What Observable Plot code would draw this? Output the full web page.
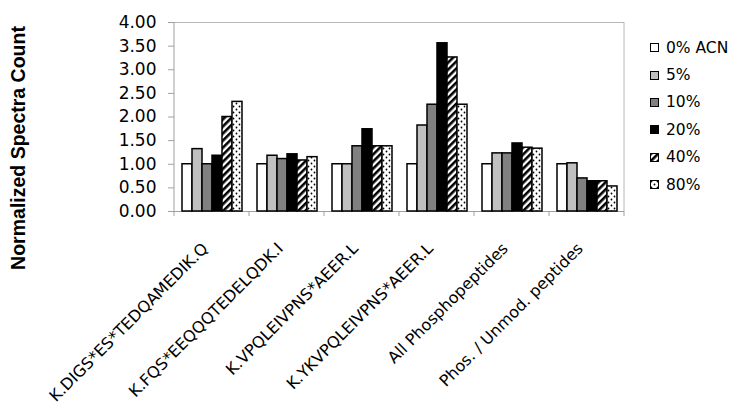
<!DOCTYPE html>
<html><head><meta charset="utf-8">
<script src="https://cdn.jsdelivr.net/npm/d3@7"></script>
<script src="https://cdn.jsdelivr.net/npm/@observablehq/plot@0.6"></script>
<style>
body{margin:0;background:#fff;}
#wrap{position:relative;width:734px;height:408px;overflow:hidden;background:#fff;}
#legend{position:absolute;left:650px;top:34px;font-family:"DejaVu Sans";font-size:15.5px;color:#000;}
.row{display:flex;align-items:center;height:27.4px;}
.row svg{margin-right:7px;display:block}
</style></head><body><div id="wrap"><div id="legend"></div></div>
<script>
const categories = ["K.DIGS*ES*TEDQAMEDIK.Q","K.FQS*EEQQQTEDELQDK.I","K.VPQLEIVPNS*AEER.L","K.YKVPQLEIVPNS*AEER.L","All Phosphopeptides","Phos. / Unmod. peptides"];
const series = ["0% ACN","5%","10%","20%","40%","80%"];
const v0  = [1.00,1.00,1.00,1.00,1.00,1.00];
const v5  = [1.32,1.18,1.00,1.82,1.23,1.02];
const v10 = [1.00,1.11,1.38,2.26,1.23,0.70];
const v20 = [1.18,1.21,1.74,3.56,1.44,0.64];
const v40 = [2.00,1.08,1.38,3.26,1.35,0.64];
const v80 = [2.32,1.15,1.38,2.26,1.33,0.53];
const yTicks = [0,0.5,1,1.5,2,2.5,3,3.5,4];
const fills = ["#ffffff","#c0c0c0","#808080","#000000","url(#stripe40)","url(#dots80)"];

const values = [v0,v5,v10,v20,v40,v80];
const rows = categories.flatMap((c,i)=>series.map((s,j)=>({category:c, series:s, value:values[j][i]})));

const plot = Plot.plot({
  width:734, height:408, marginLeft:173, marginRight:109, marginTop:22, marginBottom:197,
  style:{fontFamily:"DejaVu Sans", background:"white", color:"black"},
  fx:{domain:categories, padding:0, axis:null},
  x:{domain:series, paddingInner:0, paddingOuter:0.75, axis:null},
  y:{domain:[0,4]},
  color:{domain:series, range:fills},
  marks:[
    Plot.axisY({ticks:yTicks, tickFormat:d=>d.toFixed(2), tickSize:6, tickPadding:12, stroke:"#a0a0a0", fill:"black", fontSize:17, fontFamily:"DejaVu Sans", label:null}),
    Plot.ruleY([0],{stroke:"#a0a0a0"}),
    Plot.ruleY([4],{stroke:"#b8b8b8"}),
    Plot.barY(rows,{fx:"category", x:"series", y:"value", fill:"series", stroke:"black", strokeWidth:1.5}),
    Plot.text(categories,{fx:d=>d, text:d=>d, frameAnchor:"bottom", rotate:-45, textAnchor:"end", lineAnchor:"bottom", dy:38, dx:-3, fontSize:16, fontFamily:"DejaVu Sans", fill:"black"})
  ]
});

const svg = d3.select(plot);
const defs = svg.insert("defs", ":first-child");
const st = defs.append("pattern").attr("id","stripe40").attr("patternUnits","userSpaceOnUse")
  .attr("width",5).attr("height",5).attr("patternTransform","rotate(45)");
st.append("rect").attr("width",5).attr("height",5).attr("fill","white");
st.append("rect").attr("width",2.6).attr("height",5).attr("fill","black");
const dp = defs.append("pattern").attr("id","dots80").attr("patternUnits","userSpaceOnUse")
  .attr("width",6).attr("height",6);
dp.append("rect").attr("width",6).attr("height",6).attr("fill","white");
dp.append("circle").attr("cx",1.5).attr("cy",1.5).attr("r",0.9).attr("fill","black");
dp.append("circle").attr("cx",4.5).attr("cy",4.5).attr("r",0.9).attr("fill","black");

const fx = plot.scale("fx"), y = plot.scale("y");
const bw = fx.bandwidth;
const left = fx.apply(categories[0]);
const right = fx.apply(categories[categories.length-1]) + bw;
const g = svg.append("g").attr("stroke","#a0a0a0").attr("stroke-width",1);
g.append("line").attr("x1",left).attr("x2",left).attr("y1",y.apply(4)).attr("y2",y.apply(0));
g.append("line").attr("x1",right).attr("x2",right).attr("y1",y.apply(4)).attr("y2",y.apply(0)).attr("stroke","#b8b8b8");
categories.forEach((c)=>{
  const xx = fx.apply(c);
  g.append("line").attr("x1",xx).attr("x2",xx).attr("y1",y.apply(0)).attr("y2",y.apply(0)+5);
});
g.append("line").attr("x1",right).attr("x2",right).attr("y1",y.apply(0)).attr("y2",y.apply(0)+5);

svg.append("text").attr("transform","translate(25,148) rotate(-90)").attr("text-anchor","middle")
  .attr("font-family","Liberation Sans").attr("font-weight","bold").attr("font-size",19.5).attr("fill","black")
  .text("Normalized Spectra Count");

document.getElementById("wrap").prepend(plot);
plot.style.position="absolute"; plot.style.left="0"; plot.style.top="0";

const legend = d3.select("#legend");
series.forEach((s,j)=>{
  const r = legend.append("div").attr("class","row");
  const sw = r.append("svg").attr("width",9).attr("height",9);
  sw.append("rect").attr("x",0.5).attr("y",0.5).attr("width",8).attr("height",8)
    .attr("fill",fills[j]).attr("stroke","black").attr("stroke-width",1);
  r.append("span").text(s);
});
</script></body></html>
